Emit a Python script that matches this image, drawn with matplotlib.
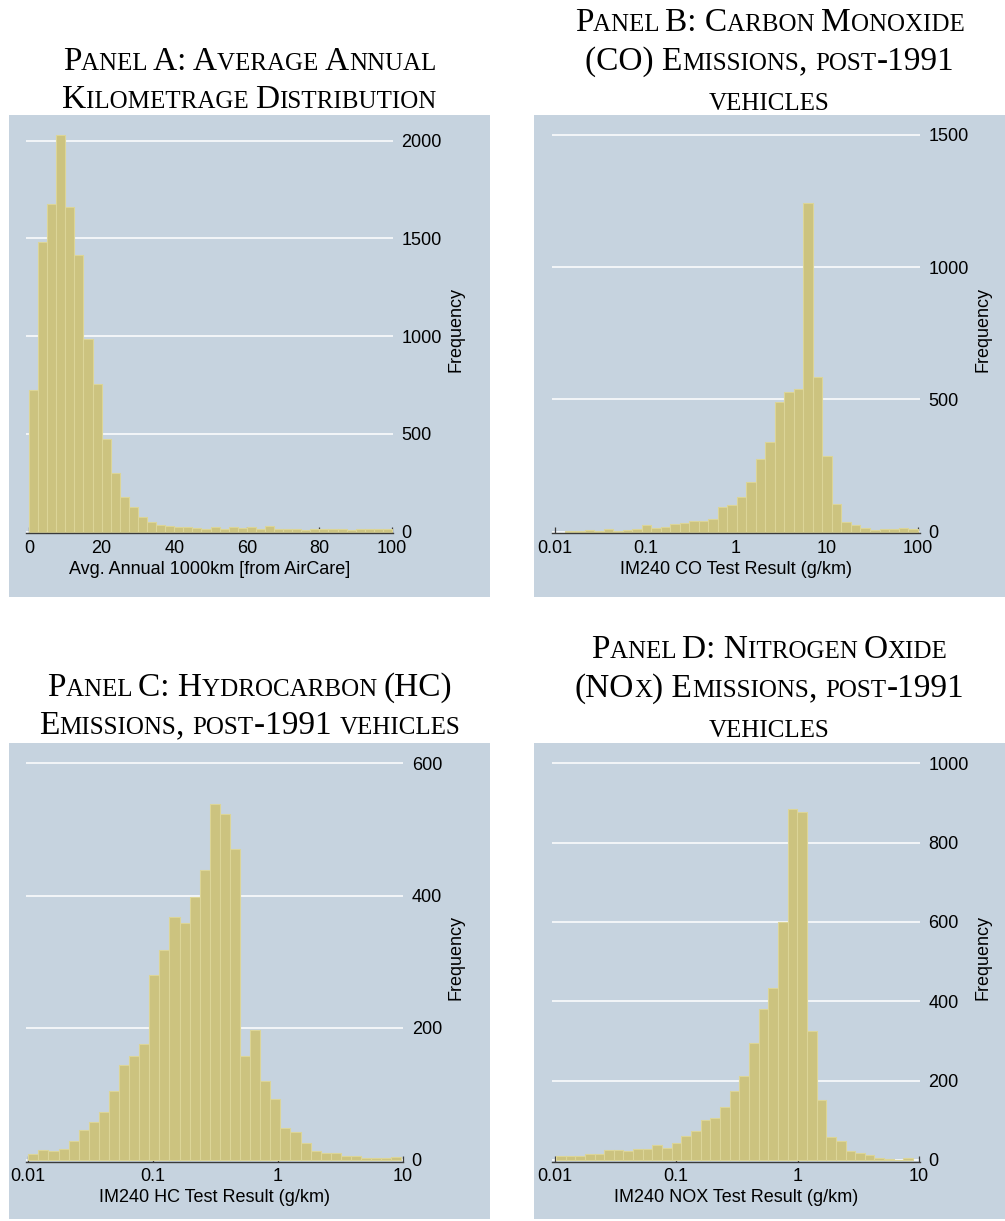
import numpy as np
import matplotlib.pyplot as plt
from matplotlib.patches import Rectangle
from matplotlib.offsetbox import TextArea, HPacker, AnnotationBbox

W, H = 1005, 1221

# ---- data ----
km_edges = np.linspace(0, 100, 41)
km_counts = [725, 1480, 1678, 2027, 1661, 1417, 987, 754, 476, 298, 176, 124,
             73, 49, 32, 29, 26, 22, 17, 14, 26, 14, 22, 17, 26, 12, 29, 12,
             15, 15, 10, 14, 12, 14, 15, 7, 12, 12, 12, 15]

co_log_start, co_log_width = -1.879, 0.1048
co_counts = [4, 4, 5, 3, 10, 3, 6, 9, 24, 13, 19, 29, 33, 39, 42, 48, 92, 100,
             132, 189, 276, 340, 491, 529, 541, 1244, 586, 286, 105, 37, 25,
             13, 6, 11, 11, 14, 10]

hc_log_start, hc_log_width = -2.0, 0.0808
hc_counts = [9, 15, 14, 17, 29, 45, 57, 72, 105, 144, 158, 176, 280, 318, 368,
             359, 398, 438, 538, 523, 471, 158, 197, 120, 93, 49, 43, 26, 13,
             10, 10, 6, 6, 3, 3, 3, 4]

nox_log_start, nox_log_width = -1.99, 0.0795
nox_counts = [10, 9, 9, 15, 16, 26, 24, 22, 27, 27, 37, 31, 44, 60, 72, 101,
              107, 133, 175, 212, 294, 380, 433, 601, 886, 876, 326, 150, 58,
              47, 23, 18, 12, 4, 3, 0, 4]

log_ticks = [0.01, 0.1, 1, 10, 100]
log_labels = ["0.01", "0.1", "1", "10", "100"]


def log_edges(start, width, n):
    return 10 ** (start + width * np.arange(n + 1))


BG = "#c6d3df"
BAR = "#ccc37f"
BAR_EDGE = "#dcd597"
SANS = "Liberation Sans"
SERIF = "Liberation Serif"

plt.rcParams["font.family"] = SANS
plt.rcParams["font.size"] = 13

fig = plt.figure(figsize=(W / 100, H / 100), dpi=100)


def frac_rect(x0, y0, x1, y1):
    return [x0 / W, 1 - y1 / H, (x1 - x0) / W, (y1 - y0) / H]


def lims(p0, v0, p1, v1, a0, a1, log=False):
    f = np.log10 if log else (lambda v: v)
    t0, t1 = f(v0), f(v1)
    s = (t1 - t0) / (p1 - p0)
    lo, hi = t0 + (a0 - p0) * s, t0 + (a1 - p0) * s
    if log:
        return 10 ** lo, 10 ** hi
    return lo, hi


def smallcaps(text, x, y_base, big=24, ratio=0.75):
    segs = []
    for ch in text:
        small = ch.islower()
        if segs and (ch == " " or segs[-1][1] == small):
            segs[-1][0] += ch
        else:
            segs.append([ch, small])
    areas = [TextArea(s.upper(), textprops=dict(family=SERIF, color="black",
                                                fontsize=big * ratio if sm else big))
             for s, sm in segs]
    box = HPacker(children=areas, align="baseline", pad=0, sep=0)
    desc = 0.216 * big * 100 / 72
    ab = AnnotationBbox(box, (x / W, 1 - (y_base + desc) / H),
                        xycoords="figure fraction", frameon=False,
                        box_alignment=(0.5, 0.0), pad=0)
    fig.add_artist(ab)


panels = [
    dict(bg=(9, 115, 490, 597), ax=(26, 125, 393, 533.3),
         xcal=(29, 0, 392, 100), ycal=(531.7, 0, 140.7, 2000), log=False,
         edges=km_edges, counts=km_counts, yticks=[0, 500, 1000, 1500, 2000],
         xticks=[0, 20, 40, 60, 80, 100], xlabels=["0", "20", "40", "60", "80", "100"],
         xlabel="Avg. Annual 1000km [from AirCare]",
         title=["Panel A: Average Annual", "Kilometrage Distribution"],
         base=[70, 108]),
    dict(bg=(534, 115, 1005, 597), ax=(551.7, 125, 920, 533.3),
         xcal=(554.5, 0.01, 917.7, 100), ycal=(531.7, 0, 135, 1500), log=True,
         edges=log_edges(co_log_start, co_log_width, len(co_counts)),
         counts=co_counts, yticks=[0, 500, 1000, 1500],
         xticks=log_ticks, xlabels=log_labels,
         xlabel="IM240 CO Test Result (g/km)",
         title=["Panel B: Carbon Monoxide", "(CO) Emissions, post-1991", "vehicles"],
         base=[31, 70, 108]),
    dict(bg=(9, 743, 490, 1219), ax=(26, 753, 403.3, 1162),
         xcal=(28.3, 0.01, 402.7, 10), ycal=(1160, 0, 763.3, 600), log=True,
         edges=log_edges(hc_log_start, hc_log_width, len(hc_counts)),
         counts=hc_counts, yticks=[0, 200, 400, 600],
         xticks=log_ticks[:4], xlabels=log_labels[:4],
         xlabel="IM240 HC Test Result (g/km)",
         title=["Panel C: Hydrocarbon (HC)", "Emissions, post-1991 vehicles"],
         base=[696, 734]),
    dict(bg=(534, 743, 1005, 1219), ax=(551.7, 753, 920, 1162),
         xcal=(554.7, 0.01, 919, 10), ycal=(1160, 0, 763.3, 1000), log=True,
         edges=log_edges(nox_log_start, nox_log_width, len(nox_counts)),
         counts=nox_counts, yticks=[0, 200, 400, 600, 800, 1000],
         xticks=log_ticks[:4], xlabels=log_labels[:4],
         xlabel="IM240 NOX Test Result (g/km)",
         title=["Panel D: Nitrogen Oxide", "(NOx) Emissions, post-1991", "vehicles"],
         base=[658, 697, 735]),
]

for p in panels:
    bx0, by0, bx1, by1 = p["bg"]
    fig.add_artist(Rectangle((bx0 / W, 1 - by1 / H), (bx1 - bx0) / W, (by1 - by0) / H,
                             transform=fig.transFigure, facecolor=BG,
                             edgecolor="none", zorder=0))
    ax0, ay0, ax1, ay1 = p["ax"]
    ax = fig.add_axes(frac_rect(ax0, ay0, ax1, ay1))
    ax.set_facecolor("none")
    if p["log"]:
        ax.set_xscale("log")
    edges = np.asarray(p["edges"])
    ax.bar(edges[:-1], p["counts"], width=np.diff(edges), align="edge",
           color=BAR, edgecolor=BAR_EDGE, linewidth=0.8, zorder=2)
    ax.set_xlim(*lims(p["xcal"][0], p["xcal"][1], p["xcal"][2], p["xcal"][3],
                      ax0, ax1, log=p["log"]))
    ax.set_ylim(*lims(p["ycal"][0], p["ycal"][1], p["ycal"][2], p["ycal"][3],
                      ay1, ay0))
    for yv in p["yticks"]:
        ax.axhline(yv, color="white", linewidth=1.1, zorder=1)
    for side in ["top", "left", "right"]:
        ax.spines[side].set_visible(False)
    ax.spines["bottom"].set_color("#3a3a3a")
    ax.spines["bottom"].set_linewidth(1.0)
    ax.spines["bottom"].set_zorder(3)
    ax.xaxis.set_minor_locator(plt.NullLocator())
    ax.set_xticks(p["xticks"])
    ax.set_xticklabels(p["xlabels"])
    ax.tick_params(axis="x", direction="in", length=4.5, width=0.9,
                   color="#3a3a3a", pad=4.5, labelsize=13)
    ax.yaxis.tick_right()
    ax.yaxis.set_label_position("right")
    ax.set_yticks(p["yticks"])
    ax.tick_params(axis="y", length=0, pad=6, labelsize=13)
    ax.set_ylabel("Frequency", fontsize=13, labelpad=4)
    ax.set_xlabel(p["xlabel"], fontsize=13, labelpad=3)
    cx = (bx0 + bx1) / 2
    for line, yb in zip(p["title"], p["base"]):
        smallcaps(line, cx, yb)

fig.savefig("out.png", dpi=100, facecolor="white")
